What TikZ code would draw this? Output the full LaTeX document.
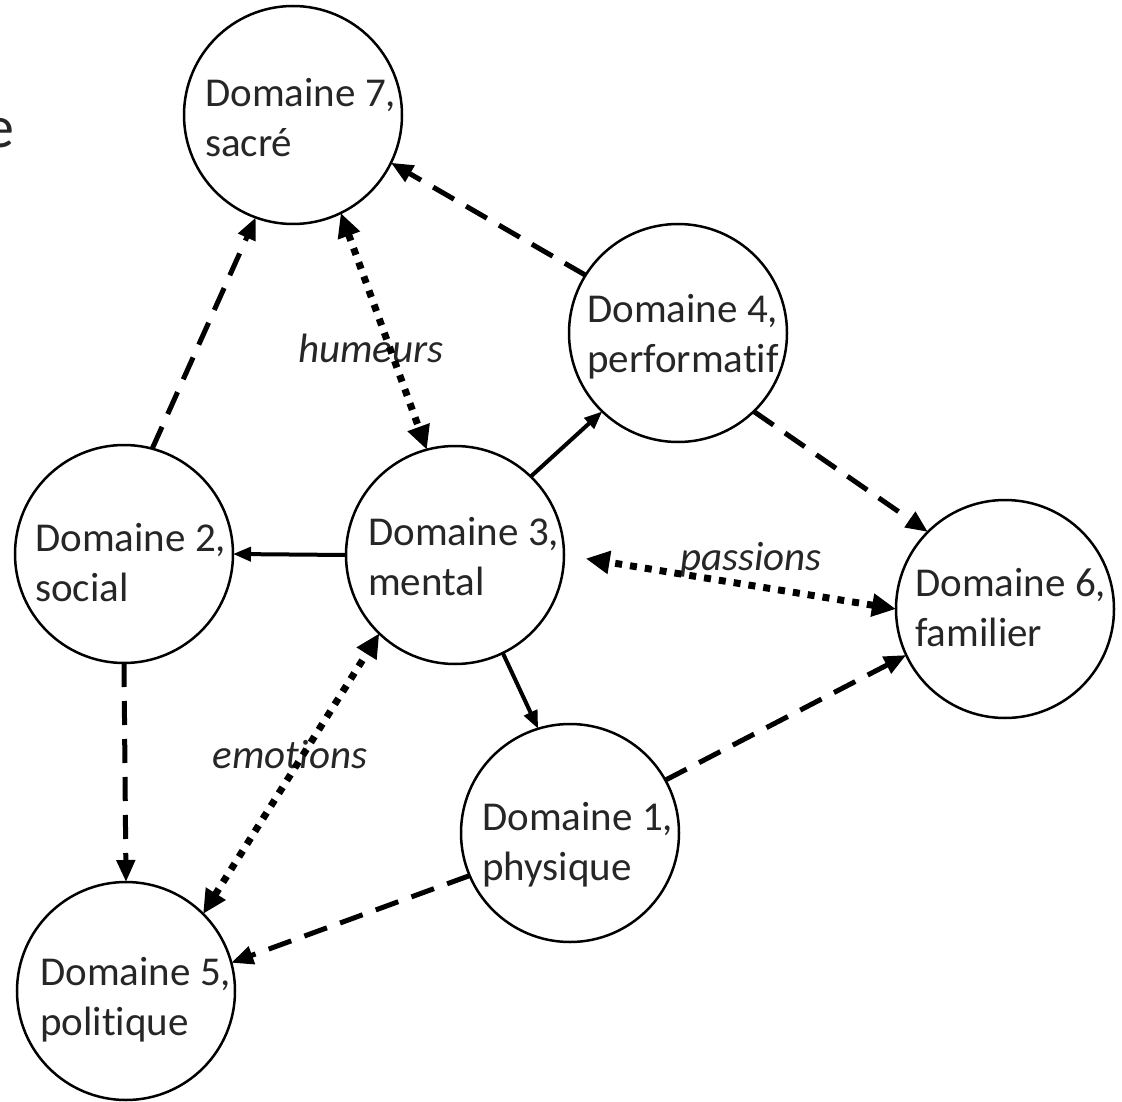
\documentclass[tikz,border=0pt]{standalone}
\usepackage{fontspec}
\setmainfont{Carlito}[Ligatures=NoCommon]
\usetikzlibrary{arrows.meta}
\begin{document}
\begin{tikzpicture}[x=1pt,y=-1pt,
  dom/.style={circle,draw=black,line width=2.5pt,minimum size=218pt,inner sep=0pt,outer sep=0pt},
  lab/.style={anchor=base west,align=left,inner sep=0pt,text=black!85,font=\fontsize{41}{50}\selectfont},
  edgelab/.style={anchor=base,inner sep=0pt,text=black!85,font=\fontsize{41}{50}\selectfont\itshape},
  dsh/.style={line width=5pt,dash pattern=on 24pt off 14pt,-{Triangle[length=22pt,width=18pt]}},
  dtt/.style={line width=7pt,dash pattern=on 7pt off 8pt,{Triangle[length=24pt,width=22pt]}-{Triangle[length=24pt,width=22pt]}},
  sld/.style={line width=4pt,-{Triangle[length=18pt,width=14pt]}}]
\useasboundingbox (0,0) rectangle (1122,1102);
\node[anchor=base east,inner sep=0pt,text=black!85,font=\fontsize{60}{60}\selectfont] (frag) at (15,148) {e};
% circles
\node[dom] (d7) at (293,115) {};
\node[dom] (d4) at (678,333) {};
\node[dom] (d2) at (124,554) {};
\node[dom] (d3) at (455,555) {};
\node[dom] (d6) at (1005,609) {};
\node[dom] (d1) at (570,833) {};
\node[dom] (d5) at (126,991) {};
% texts (anchor = baseline of the second line)
\node[lab] (t7) at (205,157) {Domaine 7,\\sacré};
\node[lab] (t4) at (587,372) {Domaine 4,\\performatif};
\node[lab] (t2) at (35,601) {Domaine 2,\\social};
\node[lab] (t3) at (368,595) {Domaine 3,\\mental};
\node[lab] (t6) at (915,646) {Domaine 6,\\familier};
\node[lab] (t1) at (482,880) {Domaine 1,\\physique};
\node[lab] (t5) at (40,1035) {Domaine 5,\\politique};
% edge labels
\node[edgelab] (lh) at (371,362) {humeurs};
\node[edgelab] (lp) at (751,570) {passions};
\node[edgelab] (le) at (290,768) {emotions};
% connectors
\draw[dsh] (d4.148.5) -- (d7.-26.8);
\draw[dsh] (d2.75.6) -- (d7.-110.8);
\draw[dtt] (d7.-64.7) -- (d3.105);
\draw[sld] (d3.46.8) -- (d4.-134.6);
\draw[dsh] (d4.-46.8) -- (d6.135.4);
\draw[sld] (d3.180) -- (d2.0);
\draw[dtt,shorten >=22pt] (d6.180) -- (d3.east);
\draw[dsh] (d2.-90) -- (d5.90);
\draw[dtt] (d5.45) -- (d3.-134);
\draw[sld] (d3.-64.5) -- (d1.107);
\draw[dsh] (d1.29.5) -- (d6.-155.5);
\draw[dsh] (d1.-157) -- (d5.15);
\end{tikzpicture}
\end{document}
